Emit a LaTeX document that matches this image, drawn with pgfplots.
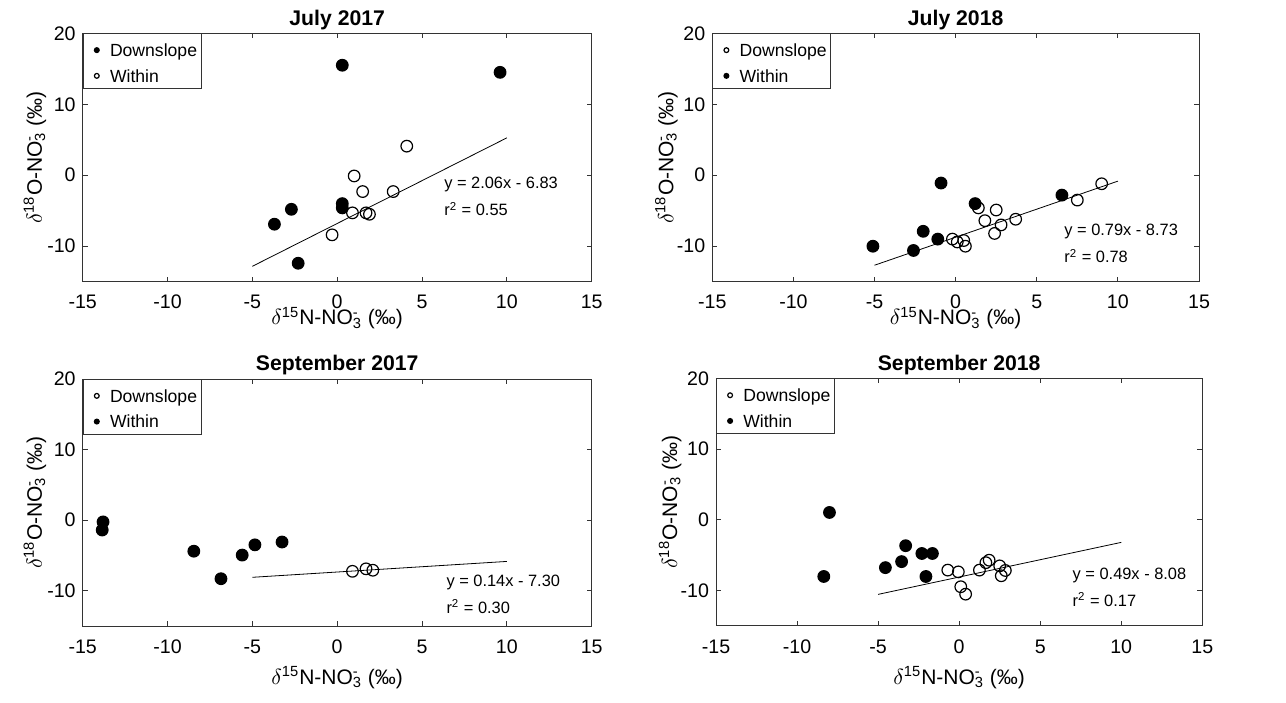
\documentclass[border=0pt]{standalone}
\usepackage{pgfplots}
\pgfplotsset{compat=1.18}
\usepackage{fontspec}
\setmainfont{Liberation Sans}

\newcommand{\nothree}{NO\rlap{\textsuperscript{-}}\textsubscript{3}}
\newcommand{\xlab}{$\delta$\textsuperscript{15}N-\nothree\ (‰)}
\newcommand{\ylab}{$\delta$\textsuperscript{18}O-\nothree\ (‰)}

\pgfplotsset{
  every axis title shift=0pt,
  panel/.style={
    scale only axis,
    xmin=-15, xmax=15, ymin=-15, ymax=20,
    xtick={-15,-10,-5,0,5,10,15}, ytick={-10,0,10,20},
    tick align=inside,
    xtick pos=both, ytick pos=both,
    xticklabel pos=lower, yticklabel pos=left,
    major tick length=2.5pt,
    axis line style={draw=black!80, line width=0.5pt},
    every tick/.style={draw=black!80, line width=0.5pt},
    /pgf/number format/assume math mode=true,
    tick label style={font=\fontsize{9.8}{11}\selectfont},
    xticklabel style={anchor=base, yshift=-13.65pt},
    label style={font=\fontsize{10.5}{12}\selectfont},
    ylabel={\ylab},
    ylabel style={at={(axis description cs:-0.0801,0.5)}, anchor=base, inner sep=0pt},
    xlabel={\xlab},
    title style={at={(axis description cs:0.5,1)}, anchor=base, yshift=4.15pt, inner sep=0pt,
      font=\bfseries\fontsize{10.6}{12}\selectfont},
    legend cell align=left,
    legend style={at={(0,1)}, anchor=north west, draw=black!80, line width=0.5pt,
      fill=white, font=\fontsize{8.8}{10}\selectfont,
      inner xsep=2pt, inner ysep=1.5pt, row sep=1.3pt,
      nodes={inner xsep=0pt, inner ysep=0pt, text height=9.85pt, text depth=1.7pt, anchor=west}},
    legend image code/.code={%
      \path[draw=none] (-4.8pt,0pt) -- (6.6pt,0pt);
      \draw[##1, mark size=1.2pt, line width=0.5pt] plot coordinates {(0pt,-0.9pt)};},
  },
  topx/.style={xlabel style={at={(axis description cs:0.5,-0.1743)}, anchor=base, inner sep=0pt}},
  botx/.style={xlabel style={at={(axis description cs:0.5,-0.2360)}, anchor=base, inner sep=0pt}},
  filled/.style={only marks, mark=*, mark size=2.9pt, black, mark options={fill=black, line width=0.6pt}},
  open/.style={only marks, mark=o, mark size=2.9pt, black, mark options={line width=0.6pt}},
  fit/.style={no marks, black, line width=0.4pt, forget plot},
}

\begin{document}
\begin{tikzpicture}
% July 2017
\begin{axis}[panel, topx, at={(41.35pt,210.15pt)}, anchor=south west,
  width=254.5pt, height=124.2pt, title={July 2017}]
\addplot[filled] coordinates {(0.3,15.5) (9.6,14.5) (0.3,-4.0) (0.3,-4.6) (-2.7,-4.8) (-3.7,-6.9) (-2.3,-12.4)};
\addlegendentry{Downslope}
\addplot[open] coordinates {(4.1,4.1) (1.0,-0.1) (1.5,-2.3) (3.3,-2.3) (0.9,-5.3) (1.7,-5.3) (1.9,-5.5) (-0.3,-8.4)};
\addlegendentry{Within}
\addplot[fit] coordinates {(-5,-12.83) (10,5.27)};
\node[anchor=base west, inner sep=0pt, font=\fontsize{8.2}{10}\selectfont] at (axis cs:6.29,-1.88) {y = 2.06x - 6.83};
\node[anchor=base west, inner sep=0pt, font=\fontsize{8.2}{10}\selectfont] at (axis cs:6.29,-5.74) {r\textsuperscript{2} = 0.55};
\end{axis}
% July 2018
\begin{axis}[panel, topx, at={(356.15pt,210.15pt)}, anchor=south west,
  width=243.35pt, height=124.2pt, title={July 2018}]
\addplot[open] coordinates {(-0.2,-9.0) (0.1,-9.4) (0.5,-9.2) (0.6,-10.0) (1.4,-4.6) (1.8,-6.4) (2.5,-4.9) (2.8,-7.0) (2.4,-8.2) (3.7,-6.2) (7.5,-3.5) (9.0,-1.2)};
\addlegendentry{Downslope}
\addplot[filled] coordinates {(-5.1,-10.0) (-2.6,-10.6) (-2.0,-7.9) (-1.1,-9.0) (-0.9,-1.1) (1.2,-4.0) (6.55,-2.8)};
\addlegendentry{Within}
\addplot[fit] coordinates {(-5,-12.68) (10,-0.83)};
\node[anchor=base west, inner sep=0pt, font=\fontsize{8.2}{10}\selectfont] at (axis cs:6.68,-8.56) {y = 0.79x - 8.73};
\node[anchor=base west, inner sep=0pt, font=\fontsize{8.2}{10}\selectfont] at (axis cs:6.68,-12.36) {r\textsuperscript{2} = 0.78};
\end{axis}
% September 2017
\begin{axis}[panel, botx, at={(41.35pt,38pt)}, anchor=south west,
  width=254.5pt, height=123.5pt, title={September 2017}]
\addplot[open] coordinates {(0.9,-7.25) (1.7,-6.9) (2.1,-7.1)};
\addlegendentry{Downslope}
\addplot[filled] coordinates {(-13.8,-0.25) (-13.85,-1.4) (-8.45,-4.4) (-6.85,-8.3) (-5.6,-4.95) (-4.85,-3.5) (-3.25,-3.1)};
\addlegendentry{Within}
\addplot[fit] coordinates {(-5,-8.1) (10,-5.85)};
\node[anchor=base west, inner sep=0pt, font=\fontsize{8.2}{10}\selectfont] at (axis cs:6.42,-9.41) {y = 0.14x - 7.30};
\node[anchor=base west, inner sep=0pt, font=\fontsize{8.2}{10}\selectfont] at (axis cs:6.42,-13.18) {r\textsuperscript{2} = 0.30};
\end{axis}
% September 2018
\begin{axis}[panel, botx, at={(358pt,38pt)}, anchor=south west,
  width=243.15pt, height=123.8pt, title={September 2018}]
\addplot[open] coordinates {(-0.7,-7.1) (-0.05,-7.35) (0.1,-9.45) (0.4,-10.5) (1.25,-7.1) (1.65,-6.05) (1.85,-5.7) (2.5,-6.5) (2.6,-7.9) (2.85,-7.15)};
\addlegendentry{Downslope}
\addplot[filled] coordinates {(-8.0,1.05) (-8.35,-8.0) (-4.55,-6.75) (-3.3,-3.65) (-3.55,-5.9) (-2.3,-4.75) (-1.65,-4.75) (-2.05,-8.0)};
\addlegendentry{Within}
\addplot[fit] coordinates {(-5,-10.53) (10,-3.18)};
\node[anchor=base west, inner sep=0pt, font=\fontsize{8.2}{10}\selectfont] at (axis cs:6.98,-8.49) {y = 0.49x - 8.08};
\node[anchor=base west, inner sep=0pt, font=\fontsize{8.2}{10}\selectfont] at (axis cs:6.98,-12.26) {r\textsuperscript{2} = 0.17};
\end{axis}
\pgfresetboundingbox
\path[use as bounding box] (0,0) rectangle (643pt,351pt);
\end{tikzpicture}
\end{document}
